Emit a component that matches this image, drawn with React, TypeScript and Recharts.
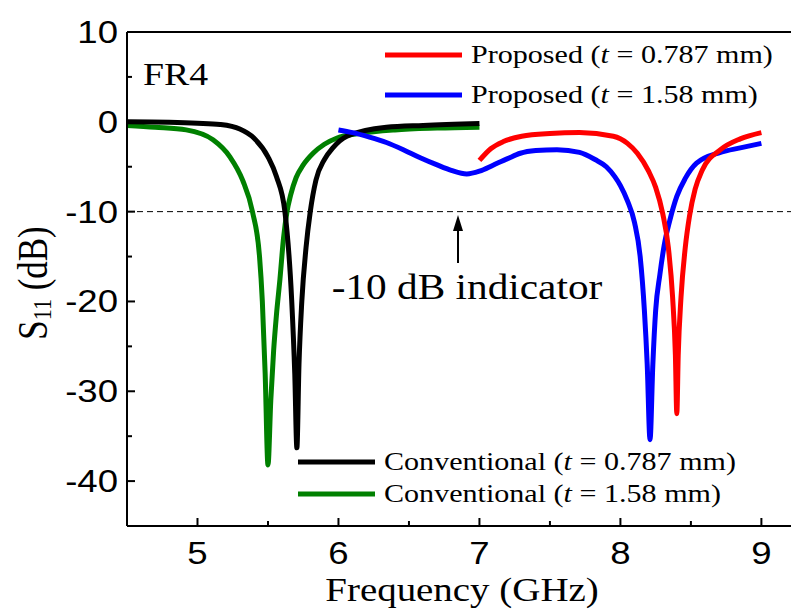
import React from 'react';
import { LineChart, Line, XAxis, YAxis, ReferenceLine } from 'recharts';

// Conventional, t = 0.787 mm
const convThinF = [4.5, 4.8, 5.0, 5.16, 5.3, 5.4, 5.5, 5.56, 5.62, 5.668, 5.69, 5.705, 5.72, 5.74, 5.77, 5.8, 5.84, 5.9, 5.96, 6.06, 6.34, 6.6, 7.0];
const convThinV = [0, -0.05, -0.15, -0.3, -0.8, -1.8, -3.9, -6.1, -10, -19.8, -28, -36.3, -27, -20, -14, -10, -6.5, -4.2, -2.9, -1.6, -0.6, -0.4, -0.2];

// Conventional, t = 1.58 mm
const convThickF = [4.5, 4.7, 4.92, 5.11, 5.23, 5.32, 5.39, 5.44, 5.46, 5.48, 5.5, 5.52, 5.54, 5.56, 5.585, 5.61, 5.635, 5.66, 5.7, 5.75, 5.82, 5.9, 5.99, 6.15, 6.4, 6.7, 7.0];
const convThickV = [-0.4, -0.6, -0.9, -2.0, -3.9, -6.5, -10, -15, -20, -28, -38.2, -31, -25.5, -21.5, -17.5, -13, -10, -8.2, -6.2, -4.8, -3.5, -2.5, -1.8, -1.3, -0.9, -0.7, -0.6];

// Proposed, t = 1.58 mm
const propThickF = [6.0, 6.1, 6.22, 6.34, 6.46, 6.58, 6.7, 6.8, 6.91, 7.0, 7.1, 7.2, 7.29, 7.4, 7.55, 7.71, 7.82, 7.9, 7.96, 8.0, 8.05, 8.1, 8.14, 8.17, 8.19, 8.21, 8.23, 8.25, 8.28, 8.31, 8.35, 8.4, 8.46, 8.54, 8.71, 8.85, 9.0];
const propThickV = [-0.9, -1.2, -1.7, -2.3, -3.1, -4.0, -4.8, -5.4, -5.8, -5.5, -4.8, -4.1, -3.5, -3.2, -3.1, -3.4, -4.2, -5.0, -6.1, -7.1, -8.8, -11.2, -15, -21, -27, -35.4, -27, -21, -17, -13.8, -11, -8.3, -6.3, -4.6, -3.4, -2.9, -2.4];

// Proposed, t = 0.787 mm
const propThinF = [7.0, 7.08, 7.17, 7.3, 7.5, 7.71, 7.95, 8.05, 8.12, 8.2, 8.25, 8.3, 8.34, 8.37, 8.39, 8.4, 8.41, 8.43, 8.46, 8.49, 8.53, 8.58, 8.71, 8.85, 9.0];
const propThinV = [-4.3, -3.0, -2.2, -1.6, -1.3, -1.2, -1.6, -2.4, -3.5, -5.5, -7.3, -10.2, -14, -19.5, -26, -32.5, -26, -19.5, -14, -10.5, -7.5, -5.4, -3.1, -1.9, -1.2];

const xTicks = [5, 5.5, 6, 6.5, 7, 7.5, 8, 8.5, 9];
const yTicks = [10, 5, 0, -5, -10, -15, -20, -25, -30, -35, -40, -45];

const toPoints = (f: number[], v: number[]) => f.map((x, i) => ({ f: x, v: v[i] }));

const SANS = '"Liberation Sans", Arial, sans-serif';
const SERIF = '"Liberation Serif", "Times New Roman", serif';
const STRETCH = 1.18;

const YTick = (props: any) => {
  const { x, y, payload } = props;
  const major = payload.value % 10 === 0;
  return (
    <g>
      <line x1={x} x2={x + (major ? 8 : 5)} y1={y} y2={y} stroke="#000" strokeWidth={2} />
      {major && (
        <text
          transform={`translate(${x - 9},${y}) scale(${STRETCH},1)`}
          textAnchor="end"
          dominantBaseline="central"
          fontFamily={SANS}
          fontSize={31}
          fill="#000"
        >
          {payload.value}
        </text>
      )}
    </g>
  );
};

const XTick = (props: any) => {
  const { x, y, payload } = props;
  const major = Number.isInteger(payload.value);
  return (
    <g>
      <line x1={x} x2={x} y1={y} y2={y - (major ? 8 : 5)} stroke="#000" strokeWidth={2} />
      {major && (
        <text
          transform={`translate(${x},${y + 38}) scale(${STRETCH},1)`}
          textAnchor="middle"
          fontFamily={SANS}
          fontSize={31}
          fill="#000"
        >
          {payload.value}
        </text>
      )}
    </g>
  );
};

const LegendItem = ({ x, y, color, label, t }: { x: number; y: number; color: string; label: string; t: string }) => (
  <g>
    <line x1={x} x2={x + 77} y1={y} y2={y} stroke={color} strokeWidth={5} />
    <text
      transform={`translate(${x + 86},${y + 8}) scale(${STRETCH},1)`}
      fontFamily={SERIF}
      fontSize={25.5}
      fill="#000"
    >
      {label} (<tspan fontStyle="italic">t</tspan> = {t} mm)
    </text>
  </g>
);

export default function App() {
  return (
    <div style={{ position: 'absolute', left: 0, top: 0, width: 791, height: 612, background: '#fff' }}>
      <LineChart width={791} height={612} margin={{ top: 32, right: 0, left: 0, bottom: 0 }}>
        <XAxis
          type="number"
          dataKey="f"
          domain={[4.5, 9.21]}
          allowDataOverflow
          ticks={xTicks}
          tick={<XTick />}
          tickSize={0}
          tickMargin={0}
          tickLine={false}
          axisLine={{ stroke: '#000', strokeWidth: 2 }}
          height={86}
          interval={0}
        />
        <YAxis
          type="number"
          domain={[-45, 10]}
          allowDataOverflow
          ticks={yTicks}
          tick={<YTick />}
          tickSize={0}
          tickMargin={0}
          tickLine={false}
          axisLine={{ stroke: '#000', strokeWidth: 2 }}
          width={127}
          interval={0}
        />
        <ReferenceLine y={10} stroke="#000" strokeWidth={2} />
        <ReferenceLine y={-10} stroke="#000" strokeWidth={1} strokeDasharray="6 4" />
        <Line data={toPoints(convThickF, convThickV)} dataKey="v" type="monotone" stroke="#008000" strokeWidth={5} dot={false} isAnimationActive={false} />
        <Line data={toPoints(convThinF, convThinV)} dataKey="v" type="monotone" stroke="#000000" strokeWidth={5} dot={false} isAnimationActive={false} />
        <Line data={toPoints(propThickF, propThickV)} dataKey="v" type="monotone" stroke="#0000ff" strokeWidth={5} dot={false} isAnimationActive={false} />
        <Line data={toPoints(propThinF, propThinV)} dataKey="v" type="monotone" stroke="#ff0000" strokeWidth={5} dot={false} isAnimationActive={false} />
      </LineChart>
      <svg width={791} height={612} style={{ position: 'absolute', left: 0, top: 0, pointerEvents: 'none' }}>
        <text transform={`translate(143,85) scale(${STRETCH},1)`} fontFamily={SERIF} fontSize={32} fill="#000">FR4</text>
        <LegendItem x={385} y={55} color="#ff0000" label="Proposed" t="0.787" />
        <LegendItem x={385} y={95} color="#0000ff" label="Proposed" t="1.58" />
        <LegendItem x={298} y={462} color="#000000" label="Conventional" t="0.787" />
        <LegendItem x={298} y={494} color="#008000" label="Conventional" t="1.58" />
        <line x1={458} x2={458} y1={263} y2={228} stroke="#000" strokeWidth={2} />
        <polygon points="458,215 453,231 463,231" fill="#000" />
        <text transform={`translate(467,299) scale(${STRETCH},1)`} textAnchor="middle" fontFamily={SERIF} fontSize={35} fill="#000">-10 dB indicator</text>
        <text transform={`translate(462,601) scale(${STRETCH},1)`} textAnchor="middle" fontFamily={SERIF} fontSize={33} fill="#000">Frequency (GHz)</text>
        <text transform={`translate(33,283) scale(${STRETCH},1) rotate(-90)`} textAnchor="middle" dominantBaseline="central" fontFamily={SERIF} fontSize={35} fill="#000">
          S<tspan dy={8} fontSize={22}>11</tspan><tspan dy={-8}> (dB)</tspan>
        </text>
      </svg>
    </div>
  );
}
